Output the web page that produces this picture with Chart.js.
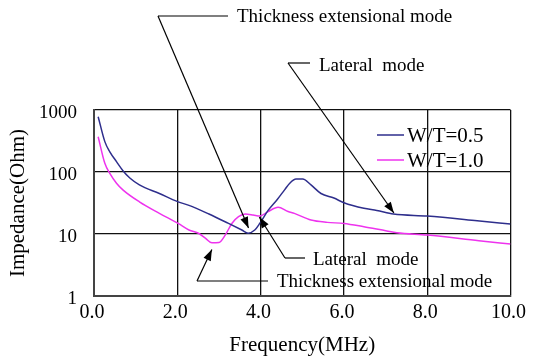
<!DOCTYPE html>
<html>
<head>
<meta charset="utf-8">
<script src="https://cdn.jsdelivr.net/npm/chart.js@4"></script>
<style>
  html, body { margin: 0; padding: 0; background: #fff; }
  #wrap { width: 533px; height: 356px; }
</style>
</head>
<body>
<div id="wrap"><canvas id="chart"></canvas></div>
<script>
// series: frequency (MHz) and impedance (Ohm)
let freq_05 = [0.1, 0.26, 0.38, 0.54, 0.7, 0.86, 1.09, 1.57, 2.02, 2.28, 2.76, 3.23, 3.55, 3.7, 3.86, 3.98, 4.18, 4.4, 4.58, 4.7, 4.85, 5.01, 5.21, 5.45, 5.76, 6.0, 6.48, 6.79, 7.19, 8.0, 9.2, 10.0];
let imp_05 = [780, 309, 212, 147, 104, 80, 62, 45, 33, 29, 21, 14.8, 11.6, 10.3, 11.6, 14.8, 24, 36, 52, 66, 77, 77, 62, 45, 38, 32, 26, 24, 21, 19.5, 16.4, 14.5];

let freq_10 = [0.1, 0.26, 0.38, 0.54, 0.7, 1.09, 1.57, 2.02, 2.28, 2.52, 2.68, 2.83, 3.0, 3.15, 3.31, 3.47, 3.63, 3.82, 3.98, 4.18, 4.42, 4.66, 4.81, 5.21, 5.6, 6.0, 6.48, 7.03, 7.27, 8.0, 9.24, 10.0];
let imp_10 = [371, 138, 95, 66, 51, 33, 21.5, 14.8, 11.6, 10.2, 8.5, 7.2, 7.3, 9.6, 14.8, 19, 21, 20.3, 19.5, 23, 27, 23, 21.5, 16.8, 15.4, 14.8, 13.1, 11.2, 10.5, 9.6, 7.8, 6.9];

let series_labels = ['W/T=0.5', 'W/T=1.0'];
let series_colors = ['#2e2e8c', '#ee33ee'];

let x_ticks = [0, 2, 4, 6, 8, 10];
let y_ticks = [1, 10, 100, 1000];

// annotations: text, arrow tip (MHz, Ohm)
let note_texts = ['Thickness extensional mode', 'Lateral  mode', 'Lateral  mode', 'Thickness extensional mode'];
let note_tips = [[3.71, 12.5], [7.2, 21.8], [3.97, 18.8], [2.83, 5.6]];

const serif = '"Liberation Serif", "DejaVu Serif", serif';

function points(xs, ys) {
    return xs.map((x, i) => ({x: x, y: ys[i]}));
}

// where the leader lines bend and the labels sit (canvas pixels)
const note_layout = [
    {elbow: [158, 16], end: [228, 16], text: [237, 17]},
    {elbow: [288, 63], end: [310, 63], text: [319, 66]},
    {elbow: [285, 258], end: [305, 258], text: [313, 260]},
    {elbow: [197, 281], end: [268, 281], text: [277, 282]},
];

function arrow(ctx, x0, y0, x1, y1) {
    ctx.beginPath();
    ctx.moveTo(x0, y0);
    ctx.lineTo(x1, y1);
    ctx.stroke();
    let a = Math.atan2(y1 - y0, x1 - x0);
    let len = 11, w = 4;
    ctx.beginPath();
    ctx.moveTo(x1, y1);
    ctx.lineTo(x1 - len * Math.cos(a) + w * Math.sin(a), y1 - len * Math.sin(a) - w * Math.cos(a));
    ctx.lineTo(x1 - len * Math.cos(a) - w * Math.sin(a), y1 - len * Math.sin(a) + w * Math.cos(a));
    ctx.closePath();
    ctx.fill();
}

const extras = {
    id: 'extras',
    afterDraw(chart) {
        const ctx = chart.ctx;
        const xs = chart.scales.x, ys = chart.scales.y;
        ctx.save();

        // legend inside the plot
        chart.data.datasets.forEach((ds, i) => {
            let y = 135 + i * 25;
            ctx.strokeStyle = ds.borderColor;
            ctx.lineWidth = 1.5;
            ctx.beginPath();
            ctx.moveTo(377, y);
            ctx.lineTo(404, y);
            ctx.stroke();
            ctx.fillStyle = '#000';
            ctx.font = '21px ' + serif;
            ctx.textBaseline = 'middle';
            ctx.textAlign = 'left';
            ctx.fillText(ds.label, 407, y + 1);
        });

        // annotations with arrows
        ctx.strokeStyle = '#000';
        ctx.fillStyle = '#000';
        ctx.lineWidth = 1.2;
        ctx.font = '19px ' + serif;
        ctx.textBaseline = 'middle';
        note_texts.forEach((txt, i) => {
            const l = note_layout[i];
            const tx = xs.getPixelForValue(note_tips[i][0]);
            const ty = ys.getPixelForValue(note_tips[i][1]);
            ctx.beginPath();
            ctx.moveTo(l.end[0], l.end[1]);
            ctx.lineTo(l.elbow[0], l.elbow[1]);
            ctx.stroke();
            arrow(ctx, l.elbow[0], l.elbow[1], tx, ty);
            ctx.fillText(txt, l.text[0], l.text[1]);
        });
        ctx.restore();
    }
};

new Chart(document.getElementById('chart'), {
    type: 'line',
    data: {
        datasets: [
            {
                label: series_labels[0],
                data: points(freq_05, imp_05),
                borderColor: series_colors[0],
                borderWidth: 1.5,
                pointRadius: 0,
                cubicInterpolationMode: 'monotone',
                fill: false
            },
            {
                label: series_labels[1],
                data: points(freq_10, imp_10),
                borderColor: series_colors[1],
                borderWidth: 1.5,
                pointRadius: 0,
                cubicInterpolationMode: 'monotone',
                fill: false
            }
        ]
    },
    options: {
        responsive: true,
        maintainAspectRatio: false,
        animation: false,
        layout: {padding: {top: 110, right: 18, left: 0, bottom: 0}},
        plugins: {
            legend: {display: false},
            tooltip: {enabled: false}
        },
        scales: {
            x: {
                type: 'linear',
                min: 0,
                max: 10,
                afterBuildTicks: scale => { scale.ticks = x_ticks.map(v => ({value: v})); },
                afterFit: scale => { scale.height = 60; },
                ticks: {
                    color: '#000',
                    font: {family: serif, size: 20},
                    padding: 5,
                    labelOffset: -2,
                    maxRotation: 0,
                    callback: v => v.toFixed(1)
                },
                grid: {color: '#111', lineWidth: 1.3, drawTicks: false},
                border: {display: true, color: '#444', width: 2},
                title: {
                    display: true,
                    text: 'Frequency(MHz)',
                    color: '#000',
                    font: {family: serif, size: 21, lineHeight: 1},
                    padding: 0
                }
            },
            y: {
                type: 'logarithmic',
                min: 1,
                max: 1000,
                afterBuildTicks: scale => { scale.ticks = y_ticks.map(v => ({value: v})); },
                afterFit: scale => { scale.width = 94; },
                ticks: {
                    color: '#000',
                    font: {family: serif, size: 19},
                    padding: 17,
                    labelOffset: 3,
                    callback: v => String(v)
                },
                grid: {color: '#111', lineWidth: 1.3, drawTicks: false},
                border: {display: true, color: '#444', width: 2},
                title: {
                    display: true,
                    text: 'Impedance(Ohm)',
                    color: '#000',
                    font: {family: serif, size: 21, lineHeight: 1},
                    padding: {top: 8, bottom: 0}
                }
            }
        }
    },
    plugins: [extras]
});
</script>
</body>
</html>
